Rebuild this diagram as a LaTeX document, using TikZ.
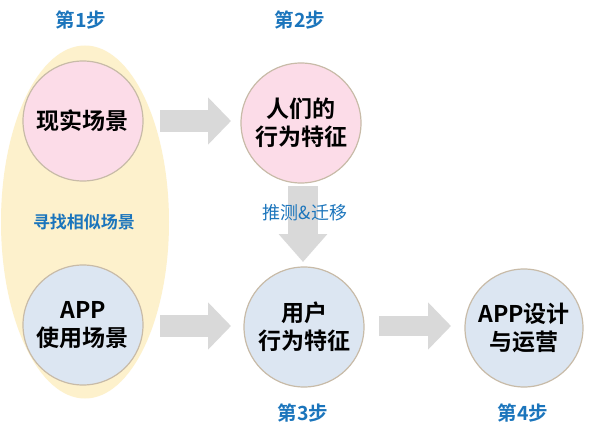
\documentclass[tikz,border=0pt]{standalone}
\usepackage{fontspec}
\setmainfont{Noto Sans CJK SC}
\newfontfamily\cjkbold{Noto Sans CJK SC Bold}
\usetikzlibrary{arrows.meta,shapes.geometric}
\definecolor{pinkfill}{HTML}{FCDCE8}
\definecolor{bluefill}{HTML}{DCE6F2}
\definecolor{ringline}{HTML}{C8BBA8}
\definecolor{eggfill}{HTML}{FDF1CC}
\definecolor{arrowgray}{HTML}{D9D9D9}
\definecolor{steptext}{HTML}{1B75BC}
\tikzset{
  circ/.style={circle, draw=ringline, line width=1.2pt, minimum size=120pt, inner sep=0pt,
     align=center, font=\cjkbold\fontsize{23}{28}\selectfont, text=black},
  pinkcirc/.style={circ, fill=pinkfill},
  bluecirc/.style={circ, fill=bluefill},
  steplabel/.style={font=\cjkbold\fontsize{19.5}{22}\selectfont, text=steptext},
  blockarrow/.style={draw=arrowgray, line width=22pt,
     -{Triangle[length=23pt,width=46pt,fill=arrowgray]}},
}
\begin{document}
\begin{tikzpicture}[x=1pt,y=-1pt]
\useasboundingbox (0,0) rectangle (590,436);
\fill[white] (0,0) rectangle (590,436);
\node[ellipse, fill=eggfill, minimum width=168pt, minimum height=353pt, inner sep=0pt] (egg) at (85,222) {};
\node[pinkcirc] (c1) at (83,121) {现实场景};
\node[pinkcirc] (c2) at (301,123) {人们的\\行为特征};
\node[bluecirc] (c3) at (83,325) {APP\\使用场景};
\node[bluecirc] (c4) at (304,327) {用户\\行为特征};
\node[bluecirc, minimum size=118pt] (c5) at (524,328) {APP设计\\与运营};
\node[steplabel] (s1) at (81,20) {第1步};
\node[steplabel] (s2) at (300,20) {第2步};
\node[steplabel] (s3) at (303,413) {第3步};
\node[steplabel] (s4) at (523,413) {第4步};
\node[font=\cjkbold\fontsize{17}{20}\selectfont, text=steptext] (find) at (84,222) {寻找相似场景};
\coordinate (a1s) at (160,121); \coordinate (a1e) at (231,121);
\coordinate (a3s) at (160,326); \coordinate (a3e) at (231,326);
\coordinate (a4s) at (379,326); \coordinate (a4e) at (451,326);
\coordinate (a2s) at (303,186); \coordinate (a2e) at (303,262);
\draw[blockarrow] (a1s) -- (a1e);
\draw[blockarrow] (a3s) -- (a3e);
\draw[blockarrow, line width=20pt] (a4s) -- (a4e);
\draw[blockarrow, line width=30pt, -{Triangle[length=28pt,width=47pt,fill=arrowgray]}] (a2s) -- (a2e);
\node[font=\fontsize{18}{20}\selectfont, text=steptext] (move) at (305,213) {推测\&迁移};
\end{tikzpicture}
\end{document}
